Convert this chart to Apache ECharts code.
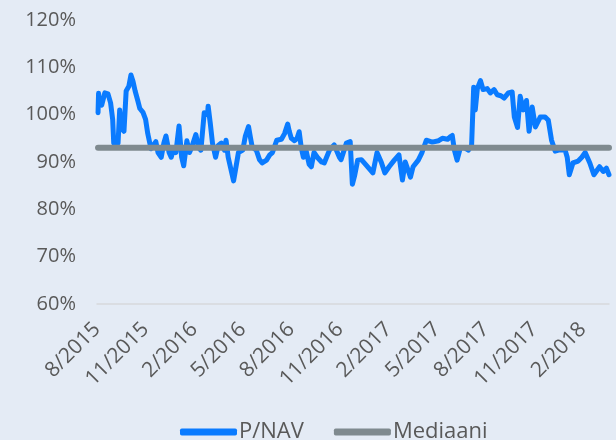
<!DOCTYPE html>
<html>
<head>
<meta charset="utf-8">
<script src="https://cdn.jsdelivr.net/npm/echarts@6/dist/echarts.min.js"></script>
<style>
  html, body { margin: 0; padding: 0; background: #e4ebf5; }
  #chart { width: 616px; height: 440px; }
</style>
</head>
<body>
<div id="chart"></div>
<script>
// P/NAV observations (trading dates and ratio in %)
const dates = [
  '2015-08-03','2015-08-04','2015-08-05','2015-08-10','2015-08-16','2015-08-22','2015-08-27','2015-08-31',
  '2015-09-02','2015-09-06','2015-09-10','2015-09-13','2015-09-17','2015-09-21','2015-09-25','2015-09-30',
  '2015-10-04','2015-10-08','2015-10-12','2015-10-17','2015-10-21','2015-10-27','2015-11-01','2015-11-05',
  '2015-11-11','2015-11-15','2015-11-20','2015-11-24','2015-11-30','2015-12-05','2015-12-09','2015-12-15',
  '2015-12-19','2015-12-24','2015-12-28','2016-01-03','2016-01-08','2016-01-12','2016-01-18','2016-01-23',
  '2016-01-27','2016-02-04','2016-02-09','2016-02-13','2016-02-19','2016-02-25','2016-02-26','2016-03-01',
  '2016-03-05','2016-03-11','2016-03-16','2016-03-22','2016-03-28','2016-03-31','2016-04-04','2016-04-08',
  '2016-04-14','2016-04-17','2016-04-23','2016-05-01','2016-05-06','2016-05-12','2016-05-16','2016-05-19',
  '2016-05-27','2016-06-02','2016-06-07','2016-06-15','2016-06-21','2016-06-26','2016-07-04','2016-07-13',
  '2016-07-19','2016-07-25','2016-07-28','2016-08-01','2016-08-07','2016-08-12','2016-08-16','2016-08-20',
  '2016-08-24','2016-08-29','2016-09-04','2016-09-08','2016-09-13','2016-09-19','2016-09-27','2016-10-02',
  '2016-10-12','2016-10-21','2016-10-31','2016-11-03','2016-11-13','2016-11-20','2016-11-24','2016-11-28',
  '2016-12-04','2016-12-11','2016-12-19','2017-01-02','2017-01-10','2017-01-18','2017-01-25','2017-02-02',
  '2017-02-11','2017-02-19','2017-02-25','2017-03-02','2017-03-12','2017-03-17','2017-03-27','2017-04-03',
  '2017-04-11','2017-04-22','2017-05-04','2017-05-11','2017-05-21','2017-05-26','2017-05-30','2017-06-03',
  '2017-06-08','2017-06-14','2017-06-22','2017-06-29','2017-07-05','2017-07-09','2017-07-12','2017-07-16',
  '2017-07-22','2017-07-27','2017-08-04','2017-08-10','2017-08-17','2017-08-23','2017-08-30','2017-09-05',
  '2017-09-13','2017-09-20','2017-09-24','2017-09-30','2017-10-05','2017-10-11','2017-10-17','2017-10-22',
  '2017-10-28','2017-11-03','2017-11-12','2017-11-21','2017-11-27','2017-12-03','2017-12-10','2017-12-20',
  '2017-12-29','2018-01-02','2018-01-06','2018-01-13','2018-01-23','2018-01-30','2018-02-05','2018-02-13',
  '2018-02-20','2018-03-02','2018-03-09','2018-03-15','2018-03-20'
];
const pnav = [
  100.4,104.5,103.5,102.0,104.6,104.4,102.5,99.0,
  94.0,93.5,94.0,101.0,97.0,96.5,105.0,106.0,
  108.4,107.0,105.0,103.0,101.3,100.5,99.0,96.0,
  92.8,93.5,94.3,92.0,91.0,94.0,95.5,92.0,
  91.0,93.0,92.0,97.6,91.0,89.2,94.5,92.0,
  93.0,95.8,93.0,92.5,100.4,100.0,101.8,98.0,
  94.0,91.0,93.5,94.0,92.5,94.6,91.0,89.0,
  86.0,88.0,92.0,92.5,95.5,97.5,95.0,93.2,
  92.5,90.5,89.8,90.4,91.5,92.0,94.6,94.8,
  96.0,98.0,96.5,95.0,94.5,95.0,96.4,93.0,
  91.0,92.5,89.5,89.0,92.0,91.0,90.0,89.8,
  92.5,93.6,91.0,90.5,94.0,94.3,85.3,87.0,
  90.4,90.5,89.5,87.7,92.0,90.0,87.7,89.0,
  90.4,91.5,86.2,90.0,86.8,89.0,90.4,92.0,
  94.6,94.2,94.5,95.0,94.8,95.3,95.6,92.5,
  90.4,93.0,93.0,92.5,93.5,105.8,101.0,105.5,
  107.2,105.3,105.5,104.6,105.3,104.2,104.0,103.5,
  104.6,104.8,99.5,97.3,103.9,101.0,103.0,96.5,
  101.6,97.4,99.5,99.5,98.8,94.6,92.3,92.6,
  92.5,91.0,87.3,89.8,90.2,91.0,92.0,89.8,
  87.3,89.0,88.0,88.7,87.3
];
// Median of the period (%)
const mediaani = 93;

// Axis ticks: every third month starting from 8/2015
const tickStartYear = 2015;
const tickStartMonth = 8;
const tickStepMonths = 3;
const yTicks = [60, 70, 80, 90, 100, 110, 120];

// Convert a date to fractional months since the first tick month
function monthOffset(s) {
  const [y, m, d] = s.split('-').map(Number);
  const dim = new Date(y, m, 0).getDate();
  return (y - tickStartYear) * 12 + (m - tickStartMonth) + (d - 1) / dim;
}
function monthLabel(v) {
  if (Math.abs(v - Math.round(v)) > 1e-6 || Math.round(v) % tickStepMonths !== 0) return '';
  const total = tickStartMonth - 1 + Math.round(v);
  const year = tickStartYear + Math.floor(total / 12);
  const month = (total % 12) + 1;
  return month + '/' + year;
}

const xs = dates.map(monthOffset);
const pnavData = xs.map((x, i) => [x, pnav[i]]);
const medianData = [[xs[0], mediaani], [xs[xs.length - 1], mediaani]];

const FONT = '"Open Sans", sans-serif';
const chart = echarts.init(document.getElementById('chart'), null, { renderer: 'canvas' });
chart.setOption({
  backgroundColor: '#e4ebf5',
  animation: false,
  textStyle: { fontFamily: FONT },
  grid: { left: 97, right: 7, top: 20, bottom: 136, outerBoundsMode: 'none' },
  legend: {
    left: 175,
    top: 416,
    icon: 'roundRect',
    itemWidth: 57,
    itemHeight: 7,
    itemGap: 30,
    textStyle: { fontFamily: FONT, fontSize: 22, color: '#595959', padding: [0, 0, 0, -3] },
    data: ['P/NAV', 'Mediaani']
  },
  xAxis: {
    type: 'value',
    min: 0,
    max: xs[xs.length - 1],
    interval: tickStepMonths,
    axisLine: { show: true, lineStyle: { color: '#d6d9dc', width: 1.5 } },
    axisTick: { show: false },
    splitLine: { show: false },
    axisLabel: {
      rotate: 45,
      margin: 22,
      fontFamily: FONT,
      fontSize: 21,
      color: '#595959',
      showMaxLabel: false,
      formatter: monthLabel
    }
  },
  yAxis: {
    type: 'value',
    min: yTicks[0],
    max: yTicks[yTicks.length - 1],
    interval: 10,
    axisLine: { show: false },
    axisTick: { show: false },
    splitLine: { show: false },
    axisLabel: {
      margin: 21,
      fontFamily: FONT,
      fontSize: 20,
      color: '#595959',
      formatter: '{value}%'
    }
  },
  series: [
    {
      name: 'P/NAV',
      type: 'line',
      data: pnavData,
      showSymbol: false,
      symbol: 'none',
      itemStyle: { color: '#0a7bff' },
      lineStyle: { color: '#0a7bff', width: 5, join: 'round', cap: 'round' }
    },
    {
      name: 'Mediaani',
      type: 'line',
      data: medianData,
      showSymbol: false,
      symbol: 'none',
      itemStyle: { color: '#7f8a8f' },
      lineStyle: { color: '#7f8a8f', width: 6, cap: 'round' }
    }
  ]
});
</script>
</body>
</html>
